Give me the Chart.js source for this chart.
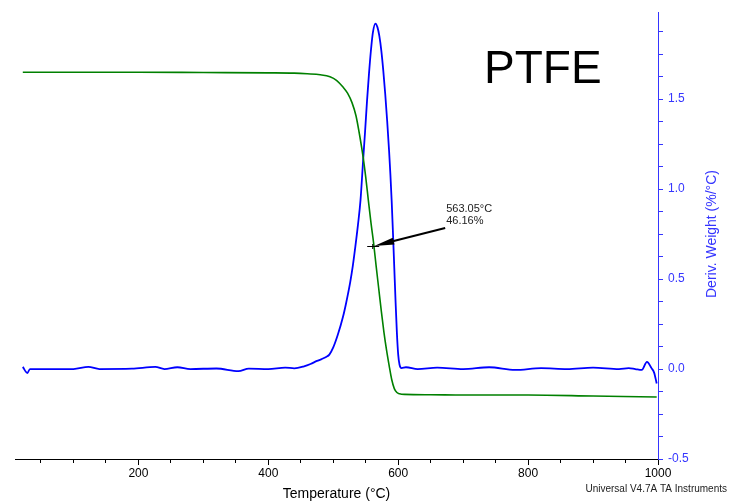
<!DOCTYPE html>
<html>
<head>
<meta charset="utf-8">
<script src="https://cdn.jsdelivr.net/npm/chart.js@4"></script>
<style>
  html, body { margin: 0; padding: 0; background: #fff; }
  #wrap { width: 730px; height: 504px; }
</style>
</head>
<body>
<div id="wrap"><canvas id="myChart" width="730" height="504"></canvas></div>
<script>
// TGA of PTFE: weight (%) on a hidden axis, derivative weight on the right
const derivTemp = [22, 29, 33, 60, 100, 123, 140, 190, 226, 240, 260, 280, 320, 354, 370, 400, 426, 440, 455, 465, 475, 482, 489, 494, 500, 507, 515, 520, 526, 530, 534, 538, 542, 546, 549, 552, 555, 558, 561, 565, 568, 571, 574, 577, 580, 583, 586, 588, 590, 592, 594, 596, 598, 600, 602, 605, 612, 630, 660, 700, 740, 780, 820, 860, 900, 940, 955, 965, 975, 983, 990, 994, 998]
const derivVals = [0.012, -0.022, 0, 0, 0, 0.012, 0, 0.002, 0.012, 0, 0.01, 0, 0.003, -0.012, 0.002, 0, 0.008, 0.004, 0.015, 0.028, 0.045, 0.055, 0.067, 0.08, 0.12, 0.19, 0.29, 0.37, 0.48, 0.57, 0.68, 0.80, 0.94, 1.16, 1.32, 1.49, 1.64, 1.77, 1.87, 1.92, 1.90, 1.85, 1.77, 1.66, 1.53, 1.38, 1.21, 1.08, 0.93, 0.75, 0.56, 0.37, 0.20, 0.08, 0.025, 0.005, 0.01, 0, 0.008, 0, 0.01, -0.005, 0.005, 0, 0.008, 0, 0.005, 0, -0.005, 0.04, 0.005, -0.02, -0.08]

const weightTemp = [22, 100, 200, 300, 400, 440, 460, 480, 495, 505, 515, 522, 529, 535, 541, 546, 550, 554, 558, 562, 566, 570, 574, 578, 582, 586, 590, 594, 598, 602, 610, 650, 700, 800, 900, 998]
const weightVals = [100, 100, 100, 99.9, 99.8, 99.7, 99.5, 99.2, 98.6, 97.5, 95.4, 93.5, 90.5, 86.5, 80, 73.7, 67.5, 60.4, 53.5, 47.3, 40, 33, 26, 19.5, 14, 9.2, 4.8, 2, 0.8, 0.4, 0.2, 0.1, 0, 0, -0.3, -0.6]

const tempLabels = [200, 400, 600, 800, 1000]
const derivLabels = [-0.5, 0, 0.5, 1.0, 1.5]

const marker = { temp: 563.05, weight: 46.16 }

const blue = '#0000ff'
const axisBlue = '#3535ff'
const green = '#008000'

const toPoints = (xs, ys) => xs.map((x, i) => ({ x: x, y: ys[i] }))

const extras = {
  id: 'extras',
  afterDatasetsDraw(chart) {
    const c = chart.ctx
    const xs = chart.scales.x
    const ys = chart.scales.y1
    const tx = xs.getPixelForValue(marker.temp)
    const ty = ys.getPixelForValue(marker.weight)
    c.save()
    // cross mark on the weight curve
    c.strokeStyle = '#000'
    c.lineWidth = 1
    c.beginPath()
    c.moveTo(tx - 7, ty + 0.5)
    c.lineTo(tx + 5, ty + 0.5)
    c.moveTo(tx - 1.5, ty - 2)
    c.lineTo(tx - 1.5, ty + 3)
    c.stroke()
    // arrow
    const sx = tx + 71, sy = ty - 18
    const ang = Math.atan2(sy - ty, sx - tx)
    c.lineWidth = 2
    c.beginPath()
    c.moveTo(sx, sy)
    c.lineTo(tx + 14 * Math.cos(ang), ty + 14 * Math.sin(ang))
    c.stroke()
    c.fillStyle = '#000'
    c.beginPath()
    c.moveTo(tx, ty)
    c.lineTo(tx + 20 * Math.cos(ang) - 3.5 * Math.sin(ang), ty + 20 * Math.sin(ang) + 3.5 * Math.cos(ang))
    c.lineTo(tx + 20 * Math.cos(ang) + 3.5 * Math.sin(ang), ty + 20 * Math.sin(ang) - 3.5 * Math.cos(ang))
    c.closePath()
    c.fill()
    // annotation text
    c.fillStyle = '#222'
    c.font = '11px "Liberation Sans", Arial, sans-serif'
    c.textBaseline = 'top'
    c.textAlign = 'left'
    c.fillText(marker.temp.toFixed(2) + '°C', tx + 72, ty - 43)
    c.fillText(marker.weight.toFixed(2) + '%', tx + 72, ty - 31)
    // sample name
    c.fillStyle = '#000'
    c.font = '46px "Liberation Sans", Arial, sans-serif'
    c.textBaseline = 'alphabetic'
    c.fillText('PTFE', 484, 83)
    // right axis title
    c.fillStyle = axisBlue
    c.font = '14px "Liberation Sans", Arial, sans-serif'
    c.textAlign = 'center'
    c.textBaseline = 'middle'
    c.translate(712, 234)
    c.rotate(-Math.PI / 2)
    c.fillText('Deriv. Weight (%/°C)', 0, 0)
    c.restore()
    // footer
    c.save()
    c.fillStyle = '#222'
    c.font = '10px "Liberation Sans", Arial, sans-serif'
    c.textAlign = 'right'
    c.textBaseline = 'alphabetic'
    c.fillText('Universal V4.7A TA Instruments', 727, 492)
    c.restore()
  }
}

const ctx = document.getElementById('myChart')
const myChart = new Chart(ctx, {
  type: 'line',
  data: {
    datasets: [
      {
        label: 'Weight (%)',
        data: toPoints(weightTemp, weightVals),
        borderColor: green,
        borderWidth: 1.6,
        pointRadius: 0,
        cubicInterpolationMode: 'monotone',
        yAxisID: 'y1'
      },
      {
        label: 'Deriv. Weight (%/°C)',
        data: toPoints(derivTemp, derivVals),
        borderColor: blue,
        borderWidth: 1.8,
        pointRadius: 0,
        cubicInterpolationMode: 'monotone',
        yAxisID: 'y'
      }
    ]
  },
  options: {
    responsive: false,
    animation: false,
    devicePixelRatio: 1,
    layout: { padding: { left: 15, top: 12, right: 0, bottom: 0 } },
    plugins: { legend: { display: false }, tooltip: { enabled: false } },
    scales: {
      x: {
        type: 'linear',
        min: 10,
        max: 1000,
        afterFit: (s) => { s.height = 45 },
        border: { display: true, color: '#000', width: 1 },
        grid: {
          drawOnChartArea: false,
          drawTicks: true,
          tickLength: 6,
          color: '#000',
          tickBorderDash: (c) => (tempLabels.includes(c.tick && c.tick.value) ? [] : [3, 20])
        },
        ticks: {
          stepSize: 50,
          includeBounds: false,
          autoSkip: false,
          maxRotation: 0,
          padding: 1,
          color: '#000',
          font: { family: '"Liberation Sans", Arial, sans-serif', size: 12 },
          callback: (v) => (tempLabels.includes(v) ? String(v) : '')
        },
        title: {
          display: true,
          text: 'Temperature (°C)',
          color: '#000',
          font: { family: '"Liberation Sans", Arial, sans-serif', size: 14 },
          padding: { top: 0, bottom: 1 }
        }
      },
      y: {
        position: 'right',
        min: -0.5,
        max: 1.983,
        afterFit: (s) => { s.width = 72 },
        border: { display: true, color: axisBlue, width: 1 },
        grid: { drawOnChartArea: false, drawTicks: true, tickLength: 5, color: axisBlue },
        ticks: {
          stepSize: 0.125,
          includeBounds: false,
          autoSkip: false,
          padding: 5,
          color: axisBlue,
          font: { family: '"Liberation Sans", Arial, sans-serif', size: 12 },
          callback: (v) => (derivLabels.some(d => Math.abs(d - v) < 1e-9) ? v.toFixed(1) : '')
        }
      },
      y1: {
        display: false,
        min: -19.81,
        max: 118.58
      }
    }
  },
  plugins: [extras]
})
</script>
</body>
</html>
